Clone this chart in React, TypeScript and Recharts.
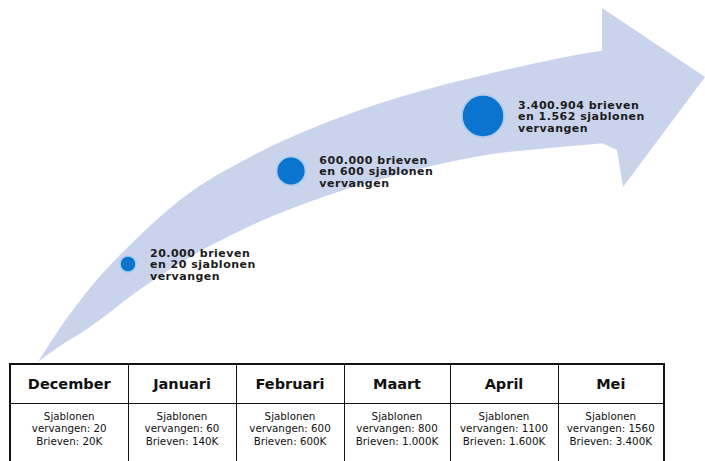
import React from 'react';
import { ComposedChart, Area, Scatter, XAxis, YAxis, ZAxis } from 'recharts';

// Table data
const months = ['December', 'Januari', 'Februari', 'Maart', 'April', 'Mei'];
const templatesReplaced = [20, 60, 600, 800, 1100, 1560];
const lettersK = ['20K', '140K', '600K', '1.000K', '1.600K', '3.400K'];

// Milestones on the arrow
const milestoneLetters = ['20.000', '600.000', '3.400.904'];
const milestoneTemplates = [20, 600, 1562];
const milestoneTemplateLabels = ['20', '600', '1.562'];
const milestoneX = [128, 291, 483];
const milestoneY = [264, 171, 116];

// Arrow outline (chart units)
const shaftX = [38, 60, 90, 135, 180, 250, 320, 400, 480, 560, 618];
const shaftTop = [362, 328, 288, 240, 200, 157, 125, 97, 76, 58, 48];
const shaftBottom = [362, 346, 327, 293, 263, 226, 198, 174, 156, 147, 142];

const headX = [602, 617, 623, 705];
const headTop = [8, 18, 22, 77];
const headBottom = [143, 150, 187, 77];

const shaftData = shaftX.map((x, i) => ({ x, band: [shaftBottom[i], shaftTop[i]] }));
const headData = headX.map((x, i) => ({ x, band: [headBottom[i], headTop[i]] }));
const milestoneData = milestoneX.map((x, i) => ({
  x,
  y: milestoneY[i],
  templates: milestoneTemplates[i],
  letters: milestoneLetters[i],
  tLabel: milestoneTemplateLabels[i],
}));

const FONT = '"DejaVu Sans", Verdana, sans-serif';
const ARROW = '#c9d3ec';

const MilestoneShape = (props: any) => {
  const { cx, cy, payload } = props;
  const r = props.width ? props.width / 2 : Math.sqrt((props.size || 64) / Math.PI);
  const tx = cx + r + 14;
  return (
    <g>
      <circle cx={cx} cy={cy} r={r} fill="#0a74cf" stroke="#a8cbee" strokeWidth={1.5} />
      <text
        x={tx}
        y={cy}
        fontFamily={FONT}
        fontWeight="bold"
        fontSize={11}
        letterSpacing={0.5}
        fill="#1c1c1c"
      >
        <tspan x={tx} dy={-7.5}>{`${payload.letters} brieven`}</tspan>
        <tspan x={tx} dy={11.5}>{`en ${payload.tLabel} sjablonen`}</tspan>
        <tspan x={tx} dy={11.5}>vervangen</tspan>
      </text>
    </g>
  );
};

const cellBorder = '1.5px solid #111';

export default function App() {
  return (
    <div
      style={{
        position: 'absolute',
        left: 0,
        top: 0,
        width: 705,
        height: 461,
        overflow: 'hidden',
        background: '#fff',
      }}
    >
      <ComposedChart width={705} height={461} margin={{ top: 0, right: 0, bottom: 0, left: 0 }}>
        <XAxis type="number" dataKey="x" domain={[0, 705]} allowDataOverflow hide />
        <YAxis type="number" domain={[0, 461]} reversed allowDataOverflow hide />
        <ZAxis type="number" dataKey="templates" domain={[20, 1562]} range={[201, 1385]} />
        <Area
          data={shaftData}
          dataKey="band"
          type="monotone"
          fill={ARROW}
          fillOpacity={1}
          stroke="none"
          dot={false}
          activeDot={false}
          isAnimationActive={false}
        />
        <Area
          data={headData}
          dataKey="band"
          type="linear"
          fill={ARROW}
          fillOpacity={1}
          stroke="none"
          dot={false}
          activeDot={false}
          isAnimationActive={false}
        />
        <Scatter
          data={milestoneData}
          dataKey="y"
          shape={MilestoneShape}
          isAnimationActive={false}
        />
      </ComposedChart>
      <table
        style={{
          position: 'absolute',
          left: 9,
          top: 363,
          borderCollapse: 'collapse',
          tableLayout: 'fixed',
          width: 653,
          fontFamily: FONT,
          color: '#111',
          border: '2px solid #111',
        }}
      >
        <colgroup>
          {months.map((m, i) => (
            <col key={m} style={{ width: i === 0 ? 118 : i === 3 || i === 5 ? 106 : 108 }} />
          ))}
        </colgroup>
        <tbody>
          <tr style={{ height: 39 }}>
            {months.map((m) => (
              <td
                key={m}
                style={{
                  border: cellBorder,
                  textAlign: 'center',
                  verticalAlign: 'middle',
                  fontWeight: 'bold',
                  fontSize: 14.5,
                  padding: 0,
                }}
              >
                {m}
              </td>
            ))}
          </tr>
          <tr style={{ height: 70 }}>
            {months.map((m, i) => (
              <td
                key={m}
                style={{
                  border: cellBorder,
                  textAlign: 'center',
                  verticalAlign: 'top',
                  fontSize: 10.3,
                  lineHeight: '12.5px',
                  paddingTop: 6,
                  paddingLeft: 0,
                  paddingRight: 0,
                }}
              >
                Sjablonen
                <br />
                {`vervangen: ${templatesReplaced[i]}`}
                <br />
                {`Brieven: ${lettersK[i]}`}
              </td>
            ))}
          </tr>
        </tbody>
      </table>
    </div>
  );
}
